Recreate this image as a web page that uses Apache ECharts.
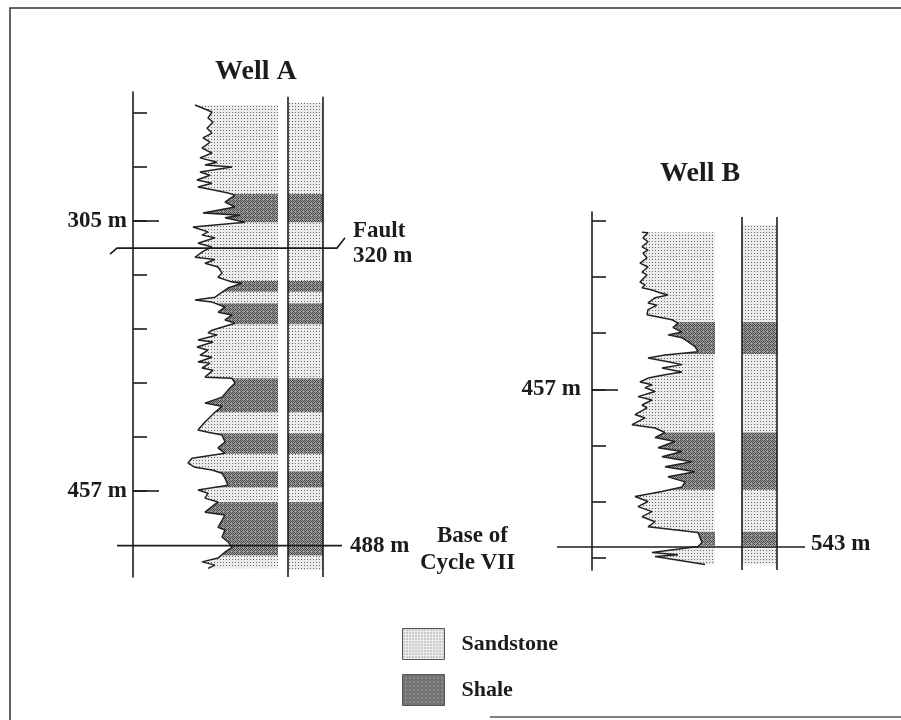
<!DOCTYPE html>
<html>
<head>
<meta charset="utf-8">
<script src="https://cdn.jsdelivr.net/npm/echarts@6/dist/echarts.min.js"></script>
<style>
  html, body { margin: 0; background: #fff; }
  #chart { width: 901px; height: 720px; }
</style>
</head>
<body>
<div id="chart"></div>
<script>
// depths in feet (ticks every 100 ft), gamma log in arbitrary units
const wellADepth = [785, 798, 809, 817, 828, 837, 846, 854, 865, 874, 883, 891, 896, 900, 909, 915, 924, 930, 937, 943,
  948, 952, 965, 974, 985, 989, 994, 1002, 1011, 1020, 1026, 1031, 1041, 1048, 1056, 1067, 1071, 1078, 1085, 1096,
  1104, 1113, 1115, 1124, 1141, 1146, 1150, 1159, 1169, 1174, 1183, 1189, 1202, 1207, 1211, 1220, 1224, 1233, 1239, 1248,
  1252, 1261, 1263, 1272, 1276, 1289, 1291, 1300, 1313, 1326, 1337, 1343, 1354, 1372, 1387, 1391, 1396, 1409, 1420, 1430,
  1439, 1448, 1456, 1461, 1467, 1476, 1489, 1498, 1504, 1513, 1520, 1539, 1544, 1554, 1567, 1572, 1585, 1594, 1604, 1613,
  1624, 1631, 1637, 1643];
const wellAGamma = [62, 79, 75, 80, 74, 79, 70, 77, 69, 79, 67, 84, 72, 99, 67, 77, 64, 79, 65, 82,
  95, 102, 92, 102, 70, 107, 92, 112, 60, 75, 69, 82, 65, 79, 70, 62, 82, 72, 85, 89,
  85, 99, 109, 95, 82, 62, 79, 92, 85, 99, 92, 102, 79, 75, 84, 65, 80, 64, 75, 67,
  79, 65, 77, 69, 80, 72, 99, 102, 95, 89, 72, 89, 82, 72, 65, 75, 89, 92, 85, 92,
  59, 55, 62, 79, 89, 92, 95, 65, 75, 72, 85, 72, 92, 89, 85, 92, 89, 95, 99, 92,
  85, 69, 82, 75];
// [top, bottom, lithology]
const wellALitho = [[781, 950, 'sand'], [950, 1002, 'shale'], [1002, 1111, 'sand'], [1111, 1131, 'shale'],
  [1131, 1152, 'sand'], [1152, 1191, 'shale'], [1191, 1291, 'sand'], [1291, 1354, 'shale'], [1354, 1393, 'sand'],
  [1393, 1431, 'shale'], [1431, 1463, 'sand'], [1463, 1493, 'shale'], [1493, 1520, 'sand'], [1520, 1619, 'shale'],
  [1619, 1646, 'sand']];
const wellATicks = [800, 900, 1000, 1100, 1200, 1300, 1400, 1500];
const wellAMarked = [1000, 1500];

const wellBDepth = [1220, 1221, 1230, 1237, 1246, 1252, 1257, 1266, 1275, 1282, 1291, 1296, 1309, 1314, 1319, 1323,
  1328, 1332, 1337, 1346, 1350, 1358, 1367, 1376, 1382, 1390, 1398, 1403, 1408, 1415, 1424, 1433, 1439, 1444, 1451,
  1456, 1462, 1469, 1474, 1480, 1487, 1492, 1497, 1504, 1513, 1519, 1528, 1533, 1545, 1551, 1563, 1569, 1577, 1586,
  1593, 1604, 1611, 1620, 1629, 1638, 1647, 1656, 1665, 1674, 1682, 1691, 1700, 1709, 1718, 1727, 1736, 1745, 1750,
  1755, 1773, 1780, 1791, 1795, 1798, 1812];
const wellBGamma = [50, 56, 51, 56, 50, 56, 51, 55, 48, 56, 50, 55, 48, 53, 50, 60,
  68, 76, 63, 56, 65, 56, 55, 80, 86, 81, 90, 76, 90, 96, 103, 106, 73, 56, 76,
  90, 70, 90, 73, 56, 48, 60, 53, 63, 46, 60, 50, 55, 43, 53, 40, 63, 73, 63,
  83, 66, 90, 70, 100, 73, 103, 76, 93, 90, 70, 43, 56, 46, 60, 50, 63, 56, 80,
  106, 110, 106, 60, 86, 63, 113];
const wellBLitho = [[1207, 1380, 'sand'], [1380, 1437, 'shale'], [1437, 1577, 'sand'], [1577, 1679, 'shale'],
  [1679, 1754, 'sand'], [1754, 1779, 'shale'], [1779, 1812, 'sand']];
const wellBTicks = [1200, 1300, 1400, 1500, 1600, 1700, 1800];
const wellBMarked = [1500];

const depthNames = { 1000: '305 m', 1500: '457 m' };
const faultA = 1050;   // 320 m
const baseA = 1601;    // 488 m
const baseB = 1781;    // 543 m

const FONT = '"Liberation Serif", "Times New Roman", serif';
const INK = '#1c1c1c';

function makePattern(size, bg, fg, cells) {
  const c = document.createElement('canvas');
  c.width = size; c.height = size;
  const ctx = c.getContext('2d');
  ctx.fillStyle = bg; ctx.fillRect(0, 0, size, size);
  ctx.fillStyle = fg;
  cells.forEach(p => ctx.fillRect(p[0], p[1], 1, 1));
  return { image: c, repeat: 'repeat' };
}
const sandPat = makePattern(3, '#ececec', '#666666', [[1, 1]]);
const shalePat = makePattern(4, '#9c9c9c', '#4a4a4a', [[0, 0], [2, 0], [1, 1], [3, 1], [0, 2], [2, 2], [1, 3]]);

function interp(depth, vals, d) {
  for (let i = 1; i < depth.length; i++) {
    if (d <= depth[i]) {
      const t = (d - depth[i - 1]) / (depth[i] - depth[i - 1]);
      return vals[i - 1] + t * (vals[i] - vals[i - 1]);
    }
  }
  return vals[vals.length - 1];
}

// one series per lithology per well: log fill + lithology column
function fillSeries(name, idx, depth, gamma, litho, kind, lay, pat) {
  return {
    type: 'custom', name: name, xAxisIndex: idx, yAxisIndex: idx * 2, z: 2,
    itemStyle: { color: pat },
    data: litho.filter(l => l[2] === kind).map(l => [l[0], l[1]]),
    renderItem: function (params, api) {
      const top = api.value(0), bot = api.value(1);
      const t = Math.max(top, depth[0]), b = Math.min(bot, depth[depth.length - 1]);
      const kids = [];
      if (b > t) {
        const pts = [api.coord([interp(depth, gamma, t), t])];
        depth.forEach((d, i) => { if (d > t && d < b) pts.push(api.coord([gamma[i], d])); });
        pts.push(api.coord([interp(depth, gamma, b), b]));
        pts.push(api.coord([lay.logEdge, b]));
        pts.push(api.coord([lay.logEdge, t]));
        kids.push({ type: 'polygon', shape: { points: pts }, style: { fill: pat } });
      }
      const c1 = api.coord([lay.colL, top]), c2 = api.coord([lay.colR, bot]);
      kids.push({ type: 'rect', shape: { x: c1[0], y: c1[1], width: c2[0] - c1[0], height: c2[1] - c1[1] }, style: { fill: pat } });
      return { type: 'group', children: kids };
    }
  };
}

// column side lines and horizontal marker lines
function frameSeries(idx, lay, lines) {
  return {
    type: 'custom', xAxisIndex: idx, yAxisIndex: idx * 2, z: 4, silent: true,
    data: [[0, lay.colTop]],
    renderItem: function (params, api) {
      const st = { stroke: INK, lineWidth: 1.6, fill: null };
      const kids = [];
      [lay.colL, lay.colR].forEach(x => {
        const p1 = api.coord([x, lay.colTop]), p2 = api.coord([x, lay.colBot]);
        kids.push({ type: 'line', shape: { x1: p1[0], y1: p1[1], x2: p2[0], y2: p2[1] }, style: st });
      });
      lines.forEach(pl => {
        kids.push({ type: 'polyline', shape: { points: pl.map(p => api.coord(p)) }, style: st });
      });
      return { type: 'group', children: kids };
    }
  };
}

const layA = { logEdge: 145, colL: 155, colR: 190, colTop: 770, colBot: 1659 };
const layB = { logEdge: 123, colL: 150, colR: 185, colTop: 1193, colBot: 1822 };

function depthAxes(idx, min, max, ticks, marked, margin) {
  const common = { type: 'value', gridIndex: idx, inverse: true, min: min, max: max, position: 'left',
    splitLine: { show: false } };
  return [
    Object.assign({}, common, {
      axisLine: { show: true, lineStyle: { color: INK, width: 1.6 } },
      axisTick: { show: true, inside: true, length: 14, customValues: ticks, lineStyle: { color: INK, width: 1.6 } },
      axisLabel: { show: false }
    }),
    Object.assign({}, common, {
      axisLine: { show: false },
      axisTick: { show: true, inside: true, length: 26, customValues: marked, lineStyle: { color: INK, width: 1.6 } },
      axisLabel: { show: true, customValues: marked, margin: margin, formatter: v => depthNames[v] || '',
        fontFamily: FONT, fontSize: 23, fontWeight: 'bold', color: INK }
    })
  ];
}

const chart = echarts.init(document.getElementById('chart'));
const txt = { fontFamily: FONT, fontSize: 23, fontWeight: 'bold', fill: INK };
const titleStyle = { fontFamily: FONT, fontSize: 28, fontWeight: 'bold', color: INK };

chart.setOption({
  animation: false,
  backgroundColor: '#fff',
  title: [
    { text: 'Well A', left: 215, top: 58, padding: 0, textStyle: titleStyle },
    { text: 'Well B', left: 660, top: 160, padding: 0, textStyle: titleStyle }
  ],
  legend: {
    orient: 'vertical', left: 402, top: 628, padding: 0, itemWidth: 42, itemHeight: 31, itemGap: 14,
    selectedMode: false, icon: 'rect',
    textStyle: { fontFamily: FONT, fontSize: 22, fontWeight: 'bold', color: INK, padding: [0, 0, 0, 12] },
    data: [
      { name: 'Sandstone', itemStyle: { color: sandPat, borderColor: '#555', borderWidth: 1 } },
      { name: 'Shale', itemStyle: { color: shalePat, borderColor: '#555', borderWidth: 1 } }
    ]
  },
  grid: [
    { left: 133, top: 92, width: 190, height: 485 },
    { left: 592, top: 212, width: 185, height: 358 }
  ],
  xAxis: [
    { type: 'value', gridIndex: 0, min: 0, max: 190, show: false },
    { type: 'value', gridIndex: 1, min: 0, max: 185, show: false }
  ],
  yAxis: depthAxes(0, 761, 1659, wellATicks, wellAMarked, 6)
    .concat(depthAxes(1, 1184, 1822, wellBTicks, wellBMarked, 11)),
  series: [
    fillSeries('Sandstone', 0, wellADepth, wellAGamma, wellALitho, 'sand', layA, sandPat),
    fillSeries('Shale', 0, wellADepth, wellAGamma, wellALitho, 'shale', layA, shalePat),
    fillSeries('Sandstone', 1, wellBDepth, wellBGamma, wellBLitho, 'sand', layB, sandPat),
    fillSeries('Shale', 1, wellBDepth, wellBGamma, wellBLitho, 'shale', layB, shalePat),
    { type: 'line', xAxisIndex: 0, yAxisIndex: 0, z: 3, showSymbol: false, silent: true,
      data: wellADepth.map((d, i) => [wellAGamma[i], d]), lineStyle: { color: '#222', width: 1.5 } },
    { type: 'line', xAxisIndex: 1, yAxisIndex: 2, z: 3, showSymbol: false, silent: true,
      data: wellBDepth.map((d, i) => [wellBGamma[i], d]), lineStyle: { color: '#222', width: 1.5 } },
    frameSeries(0, layA, [
      [[-23, faultA + 11], [-16, faultA], [204, faultA], [212, faultA - 19]],
      [[-16, baseA], [209, baseA]]
    ]),
    frameSeries(1, layB, [
      [[-35, baseB], [213, baseB]]
    ])
  ],
  graphic: [
    { type: 'polyline', shape: { points: [[10, 720], [10, 8], [901, 8]] }, style: { stroke: '#333', lineWidth: 1.5, fill: null } },
    { type: 'line', shape: { x1: 490, y1: 717, x2: 901, y2: 717 }, style: { stroke: '#555', lineWidth: 1.5 } },
    { type: 'text', left: 353, top: 220, style: Object.assign({ text: 'Fault' }, txt) },
    { type: 'text', left: 353, top: 245, style: Object.assign({ text: '320 m' }, txt) },
    { type: 'text', left: 350, top: 535, style: Object.assign({ text: '488 m' }, txt) },
    { type: 'text', left: 437, top: 525, style: Object.assign({ text: 'Base of' }, txt) },
    { type: 'text', left: 420, top: 552, style: Object.assign({ text: 'Cycle VII' }, txt) },
    { type: 'text', left: 811, top: 533, style: Object.assign({ text: '543 m' }, txt) }
  ]
});
</script>
</body>
</html>
